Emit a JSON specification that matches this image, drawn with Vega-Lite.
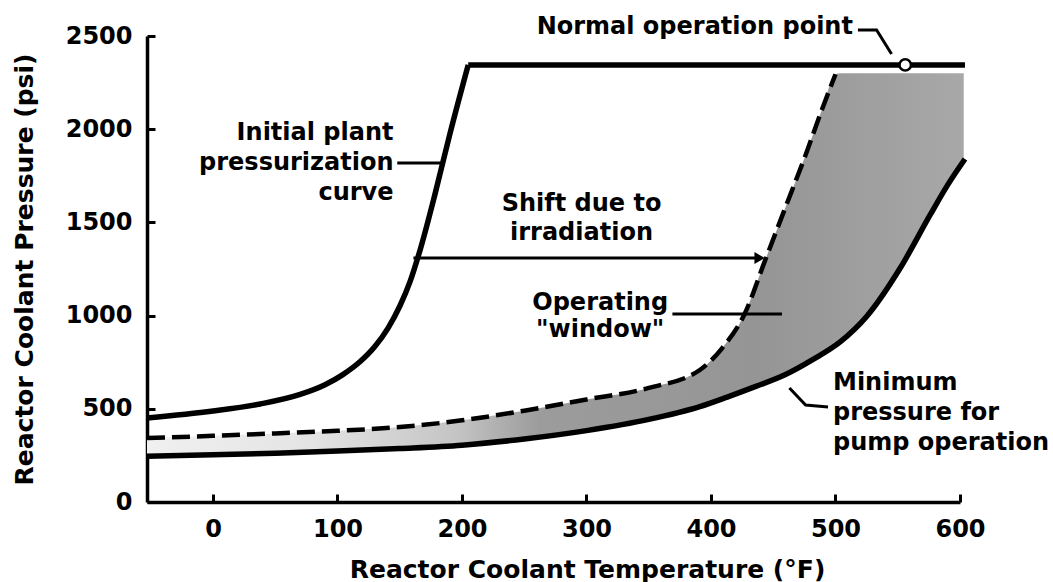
{
  "$schema": "https://vega.github.io/schema/vega-lite/v6.json",
  "width": 813,
  "height": 466,
  "autosize": {"type": "none"},
  "padding": {"left": 147, "top": 36, "right": 93, "bottom": 80},
  "background": "white",
  "config": {
    "view": {"stroke": null},
    "font": "DejaVu Sans",
    "text": {"font": "DejaVu Sans", "fontWeight": "bold", "fontSize": 24, "color": "black", "baseline": "middle"}
  },
  "datasets": {
    "band": [
      {"T": -53, "upper": 343, "lower": 245},
      {"T": 0, "upper": 355, "lower": 253},
      {"T": 50, "upper": 368, "lower": 262},
      {"T": 100, "upper": 382, "lower": 273},
      {"T": 150, "upper": 402, "lower": 287},
      {"T": 200, "upper": 438, "lower": 305},
      {"T": 250, "upper": 490, "lower": 338},
      {"T": 300, "upper": 550, "lower": 383},
      {"T": 350, "upper": 612, "lower": 443},
      {"T": 391, "upper": 708, "lower": 512},
      {"T": 409, "upper": 826, "lower": 553},
      {"T": 427, "upper": 1009, "lower": 598},
      {"T": 443, "upper": 1288, "lower": 638},
      {"T": 459, "upper": 1567, "lower": 681},
      {"T": 476, "upper": 1862, "lower": 743},
      {"T": 489, "upper": 2103, "lower": 795},
      {"T": 500, "upper": 2295, "lower": 843},
      {"T": 504, "upper": 2300, "lower": 860},
      {"T": 525, "upper": 2300, "lower": 995},
      {"T": 552, "upper": 2300, "lower": 1255},
      {"T": 576, "upper": 2300, "lower": 1540},
      {"T": 590, "upper": 2300, "lower": 1700},
      {"T": 603, "upper": 2300, "lower": 1835}
    ],
    "curves": [
      {"curve": "Initial plant pressurization curve", "part": "rise", "T": -53, "P": 451},
      {"curve": "Initial plant pressurization curve", "part": "rise", "T": 0, "P": 488},
      {"curve": "Initial plant pressurization curve", "part": "rise", "T": 38, "P": 526},
      {"curve": "Initial plant pressurization curve", "part": "rise", "T": 70, "P": 577},
      {"curve": "Initial plant pressurization curve", "part": "rise", "T": 90, "P": 629},
      {"curve": "Initial plant pressurization curve", "part": "rise", "T": 104, "P": 682},
      {"curve": "Initial plant pressurization curve", "part": "rise", "T": 118, "P": 752},
      {"curve": "Initial plant pressurization curve", "part": "rise", "T": 130, "P": 834},
      {"curve": "Initial plant pressurization curve", "part": "rise", "T": 140.6, "P": 933},
      {"curve": "Initial plant pressurization curve", "part": "rise", "T": 150.2, "P": 1053},
      {"curve": "Initial plant pressurization curve", "part": "rise", "T": 158.2, "P": 1181},
      {"curve": "Initial plant pressurization curve", "part": "rise", "T": 166.3, "P": 1351},
      {"curve": "Initial plant pressurization curve", "part": "rise", "T": 178.3, "P": 1651},
      {"curve": "Initial plant pressurization curve", "part": "rise", "T": 190.4, "P": 1978},
      {"curve": "Initial plant pressurization curve", "part": "rise", "T": 205, "P": 2345},
      {"curve": "Initial plant pressurization curve", "part": "plateau", "T": 205, "P": 2345},
      {"curve": "Initial plant pressurization curve", "part": "plateau", "T": 604, "P": 2345},
      {"curve": "Minimum pressure for pump operation", "part": "all", "T": -53, "P": 245},
      {"curve": "Minimum pressure for pump operation", "part": "all", "T": 0, "P": 253},
      {"curve": "Minimum pressure for pump operation", "part": "all", "T": 50, "P": 262},
      {"curve": "Minimum pressure for pump operation", "part": "all", "T": 100, "P": 273},
      {"curve": "Minimum pressure for pump operation", "part": "all", "T": 150, "P": 287},
      {"curve": "Minimum pressure for pump operation", "part": "all", "T": 200, "P": 305},
      {"curve": "Minimum pressure for pump operation", "part": "all", "T": 250, "P": 338},
      {"curve": "Minimum pressure for pump operation", "part": "all", "T": 300, "P": 383},
      {"curve": "Minimum pressure for pump operation", "part": "all", "T": 350, "P": 443},
      {"curve": "Minimum pressure for pump operation", "part": "all", "T": 391, "P": 512},
      {"curve": "Minimum pressure for pump operation", "part": "all", "T": 413, "P": 563},
      {"curve": "Minimum pressure for pump operation", "part": "all", "T": 436, "P": 620},
      {"curve": "Minimum pressure for pump operation", "part": "all", "T": 459, "P": 681},
      {"curve": "Minimum pressure for pump operation", "part": "all", "T": 482, "P": 765},
      {"curve": "Minimum pressure for pump operation", "part": "all", "T": 504, "P": 860},
      {"curve": "Minimum pressure for pump operation", "part": "all", "T": 525, "P": 995},
      {"curve": "Minimum pressure for pump operation", "part": "all", "T": 552, "P": 1255},
      {"curve": "Minimum pressure for pump operation", "part": "all", "T": 576, "P": 1540},
      {"curve": "Minimum pressure for pump operation", "part": "all", "T": 590, "P": 1700},
      {"curve": "Minimum pressure for pump operation", "part": "all", "T": 604, "P": 1840}
    ],
    "shifted": [
      {"T": -53, "P": 343},
      {"T": 0, "P": 355},
      {"T": 50, "P": 368},
      {"T": 100, "P": 382},
      {"T": 150, "P": 402},
      {"T": 200, "P": 438},
      {"T": 250, "P": 490},
      {"T": 300, "P": 550},
      {"T": 350, "P": 612},
      {"T": 391, "P": 708},
      {"T": 409, "P": 826},
      {"T": 427, "P": 1009},
      {"T": 443, "P": 1288},
      {"T": 459, "P": 1567},
      {"T": 476, "P": 1862},
      {"T": 489, "P": 2103},
      {"T": 500, "P": 2295}
    ],
    "leaders": [
      {"id": "op", "k": 1, "T": 518, "P": 2532},
      {"id": "op", "k": 2, "T": 533, "P": 2532},
      {"id": "op", "k": 3, "T": 545, "P": 2403},
      {"id": "init", "k": 1, "T": 148, "P": 1819},
      {"id": "init", "k": 2, "T": 184, "P": 1819},
      {"id": "window", "k": 1, "T": 369, "P": 1009},
      {"id": "window", "k": 2, "T": 457, "P": 1009},
      {"id": "min", "k": 1, "T": 463, "P": 612},
      {"id": "min", "k": 2, "T": 476, "P": 520},
      {"id": "min", "k": 3, "T": 494, "P": 510},
      {"id": "shift", "k": 1, "T": 161, "P": 1309},
      {"id": "shift", "k": 2, "T": 438, "P": 1309}
    ],
    "arrowheads": [{"id": "shift", "T": 439, "P": 1309}],
    "points": [{"name": "Normal operation point", "T": 556, "P": 2345}],
    "notes": [
      {"id": "op", "label": "Normal operation point", "T": 514, "P": 2548},
      {"id": "init", "label": "Initial plant\npressurization\ncurve", "T": 145, "P": 1980},
      {"id": "shift", "label": "Shift due to\nirradiation", "T": 296, "P": 1599},
      {"id": "window", "label": "Operating\n\"window\"", "T": 311, "P": 1068},
      {"id": "min", "label": "Minimum\npressure for\npump operation", "T": 498, "P": 638}
    ]
  },
  "encoding": {
    "x": {
      "field": "T", "type": "quantitative",
      "scale": {"domain": [-53, 600], "nice": false, "zero": false},
      "axis": {
        "title": "Reactor Coolant Temperature (°F)",
        "values": [0, 100, 200, 300, 400, 500, 600],
        "format": "d",
        "grid": false, "tickSize": -8, "tickWidth": 3, "tickColor": "black",
        "domainColor": "black", "domainWidth": 3.5,
        "labelFont": "DejaVu Sans", "labelFontWeight": "bold", "labelFontSize": 24, "labelColor": "black",
        "labelPadding": 23, "labelFlush": false, "labelOverlap": false,
        "titleFont": "DejaVu Sans", "titleFontWeight": "bold", "titleFontSize": 25, "titleColor": "black",
        "titlePadding": 16, "titleX": 440
      }
    },
    "y": {
      "field": "P", "type": "quantitative",
      "scale": {"domain": [0, 2500], "nice": false},
      "axis": {
        "title": "Reactor Coolant Pressure (psi)",
        "values": [0, 500, 1000, 1500, 2000, 2500],
        "format": "d",
        "grid": false, "tickSize": -8, "tickWidth": 3, "tickColor": "black",
        "domainColor": "black", "domainWidth": 3.5,
        "labelFont": "DejaVu Sans", "labelFontWeight": "bold", "labelFontSize": 24, "labelColor": "black",
        "labelPadding": 23, "labelFlush": false, "labelOverlap": false,
        "titleFont": "DejaVu Sans", "titleFontWeight": "bold", "titleFontSize": 25, "titleColor": "black",
        "titlePadding": 28
      }
    }
  },
  "layer": [
    {
      "data": {"name": "band"},
      "mark": {
        "type": "area", "interpolate": "monotone",
        "fill": {
          "gradient": "linear", "x1": 0, "x2": 1, "y1": 0, "y2": 0,
          "stops": [
            {"offset": 0, "color": "#f0f0f0"},
            {"offset": 0.2, "color": "#e4e4e4"},
            {"offset": 0.38, "color": "#c4c4c4"},
            {"offset": 0.48, "color": "#9c9c9c"},
            {"offset": 0.75, "color": "#959595"},
            {"offset": 1, "color": "#a8a8a8"}
          ]
        }
      },
      "encoding": {
        "y": {
          "field": "upper", "type": "quantitative",
          "scale": {"domain": [0, 2500], "nice": false},
          "axis": {
            "title": "Reactor Coolant Pressure (psi)",
            "values": [0, 500, 1000, 1500, 2000, 2500],
            "format": "d",
            "grid": false, "tickSize": -8, "tickWidth": 3, "tickColor": "black",
            "domainColor": "black", "domainWidth": 3.5,
            "labelFont": "DejaVu Sans", "labelFontWeight": "bold", "labelFontSize": 24, "labelColor": "black",
            "labelPadding": 23, "labelFlush": false, "labelOverlap": false,
            "titleFont": "DejaVu Sans", "titleFontWeight": "bold", "titleFontSize": 25, "titleColor": "black",
            "titlePadding": 28
          }
        },
        "y2": {"field": "lower"}
      }
    },
    {
      "data": {"name": "curves"},
      "mark": {"type": "line", "interpolate": "monotone", "color": "black", "strokeWidth": 5.5, "strokeCap": "butt"},
      "encoding": {"detail": [{"field": "curve"}, {"field": "part"}]}
    },
    {
      "data": {"name": "shifted"},
      "mark": {"type": "line", "interpolate": "monotone", "color": "black", "strokeWidth": 4.5, "strokeDash": [18, 7]},
      "encoding": {}
    },
    {
      "data": {"name": "leaders"},
      "mark": {"type": "line", "color": "black", "strokeWidth": 3},
      "encoding": {"detail": {"field": "id"}, "order": {"field": "k"}}
    },
    {
      "data": {"name": "arrowheads"},
      "mark": {"type": "point", "shape": "triangle-right", "filled": true, "color": "black", "size": 140, "opacity": 1},
      "encoding": {}
    },
    {
      "data": {"name": "points"},
      "mark": {"type": "point", "shape": "circle", "filled": true, "fill": "white", "stroke": "black", "strokeWidth": 2.5, "size": 130, "opacity": 1},
      "encoding": {}
    },
    {
      "data": {"name": "notes"},
      "transform": [{"filter": "datum.id === 'op' || datum.id === 'init'"}],
      "mark": {"type": "text", "align": "right", "lineBreak": "\n", "lineHeight": 30},
      "encoding": {"text": {"field": "label"}}
    },
    {
      "data": {"name": "notes"},
      "transform": [{"filter": "datum.id === 'shift'"}],
      "mark": {"type": "text", "align": "center", "lineBreak": "\n", "lineHeight": 29},
      "encoding": {"text": {"field": "label"}}
    },
    {
      "data": {"name": "notes"},
      "transform": [{"filter": "datum.id === 'window'"}],
      "mark": {"type": "text", "align": "center", "lineBreak": "\n", "lineHeight": 27},
      "encoding": {"text": {"field": "label"}}
    },
    {
      "data": {"name": "notes"},
      "transform": [{"filter": "datum.id === 'min'"}],
      "mark": {"type": "text", "align": "left", "lineBreak": "\n", "lineHeight": 30},
      "encoding": {"text": {"field": "label"}}
    }
  ]
}
